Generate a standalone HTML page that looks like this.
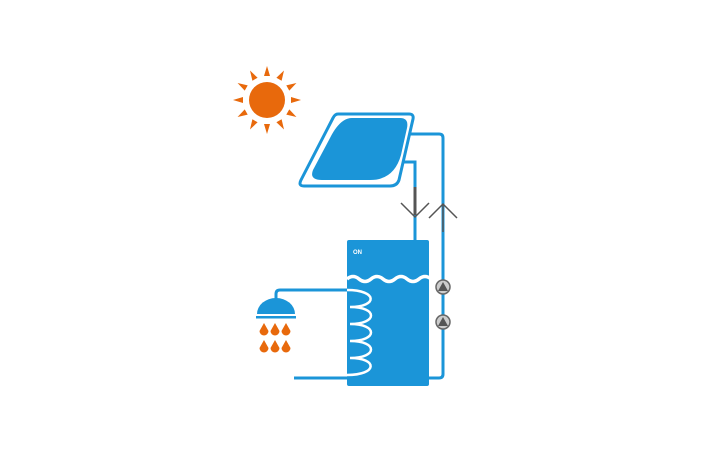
<!DOCTYPE html>
<html><head><style>body{margin:0;background:#fff}</style></head><body>
<svg width="710" height="460" viewBox="0 0 710 460" xmlns="http://www.w3.org/2000/svg">
<g fill="#e8690c">
<circle cx="267" cy="100" r="18"/>
<g transform="translate(267,100)">
<polygon points="-3,-24 3,-24 0,-34"/>
<polygon points="-3,-24 3,-24 0,-34" transform="rotate(30)"/>
<polygon points="-3,-24 3,-24 0,-34" transform="rotate(60)"/>
<polygon points="-3,-24 3,-24 0,-34" transform="rotate(90)"/>
<polygon points="-3,-24 3,-24 0,-34" transform="rotate(120)"/>
<polygon points="-3,-24 3,-24 0,-34" transform="rotate(150)"/>
<polygon points="-3,-24 3,-24 0,-34" transform="rotate(180)"/>
<polygon points="-3,-24 3,-24 0,-34" transform="rotate(210)"/>
<polygon points="-3,-24 3,-24 0,-34" transform="rotate(240)"/>
<polygon points="-3,-24 3,-24 0,-34" transform="rotate(270)"/>
<polygon points="-3,-24 3,-24 0,-34" transform="rotate(300)"/>
<polygon points="-3,-24 3,-24 0,-34" transform="rotate(330)"/>
</g>
</g>
<g fill="none" stroke="#1b95d8" stroke-width="3">
<path d="M410,134 H439 Q443,134 443,138 V374 Q443,378 439,378 H429"/>
<path d="M404,162 H415 V240"/>
<path d="M276,300 V294 Q276,290 280,290 H347"/>
<path d="M294,378 H347"/>
<path d="M338,114 H409 Q414,114 413,119 L399,180 Q397,186 390,186 H304 Q298,186 301,180 L333,118 Q335,114 338,114 Z"/>
</g>
<path d="M352,118 H400 Q409,118 407,128 L401,155 Q394,180 370,180 H322 Q309,180 313,170 L330,138 Q340,118 352,118 Z" fill="#1b95d8"/>
<rect x="413.5" y="187" width="3" height="28" fill="#555"/>
<g stroke="#555" stroke-width="1.5" fill="none">
<path d="M401,203 L415,217 L429,203"/>
<path d="M429,218 L443,204 L457,218"/>
<path d="M443,204 V232"/>
</g>
<rect x="347" y="240" width="82" height="146" rx="2" fill="#1b95d8"/>
<text x="353" y="254" font-family="Liberation Sans, sans-serif" font-size="6" font-weight="bold" fill="#fff">ON</text>
<path d="M347,279 q6,-5 12,0 t12,0 t12,0 t12,0 t12,0 t12,0 t12,0" fill="none" stroke="#fff" stroke-width="3.5"/>
<path d="M347,290 C378,290 378,307 350,307 C378,307 378,324 350,324 C378,324 378,341 350,341 C378,341 378,358 350,358 C378,358 378,375 347,375" fill="none" stroke="#fff" stroke-width="2.5"/>
<g>
<circle cx="443" cy="287" r="7" fill="#ccc" stroke="#666" stroke-width="1.5"/>
<polygon points="443,282 438,291 448,291" fill="#555"/>
<circle cx="443" cy="322" r="7" fill="#ccc" stroke="#666" stroke-width="1.5"/>
<polygon points="443,317 438,326 448,326" fill="#555"/>
</g>
<path d="M257,314 A19,16 0 0 1 295,314 Z" fill="#1b95d8"/>
<rect x="256" y="316" width="40" height="2.5" fill="#1b95d8"/>
<g fill="#e8690c">
<path d="M264,323 l4.5,8 a4.5,4.5 0 1 1 -9,0 z"/>
<path d="M275,323 l4.5,8 a4.5,4.5 0 1 1 -9,0 z"/>
<path d="M286,323 l4.5,8 a4.5,4.5 0 1 1 -9,0 z"/>
<path d="M264,340 l4.5,8 a4.5,4.5 0 1 1 -9,0 z"/>
<path d="M275,340 l4.5,8 a4.5,4.5 0 1 1 -9,0 z"/>
<path d="M286,340 l4.5,8 a4.5,4.5 0 1 1 -9,0 z"/>
</g>
</svg>
</body></html>
